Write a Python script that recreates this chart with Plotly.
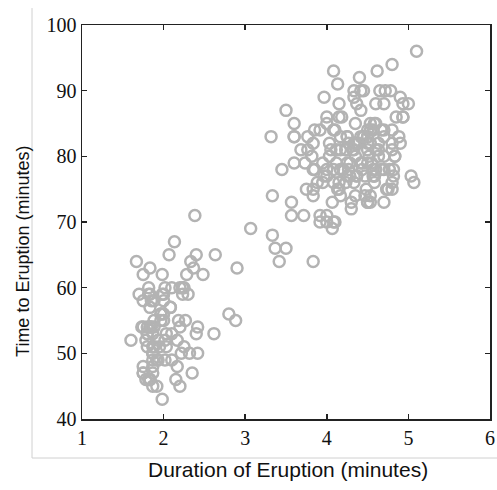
import plotly.graph_objects as go

eruptions = [3.600,1.800,3.333,2.283,4.533,2.883,4.700,3.600,1.950,4.350,1.833,3.917,4.200,1.750,4.700,2.167,1.750,4.800,1.600,4.250,
1.800,1.750,3.450,3.067,4.533,3.600,1.967,4.083,3.850,4.433,4.300,4.467,3.367,4.033,3.833,2.017,1.867,4.833,1.833,4.783,
4.350,1.883,4.567,1.750,4.533,3.317,3.833,2.100,4.633,2.000,4.800,4.716,1.833,4.833,1.733,4.883,3.717,1.667,4.567,4.317,
2.233,4.500,1.750,4.800,1.817,4.400,4.167,4.700,2.067,4.700,4.033,1.967,4.500,4.000,1.983,5.067,2.017,4.567,3.883,3.600,
4.133,4.333,4.100,2.633,4.067,4.933,3.950,4.517,2.167,4.000,2.200,4.333,1.867,4.817,1.833,4.300,4.667,3.750,1.867,4.900,
2.483,4.367,2.100,4.500,4.050,1.867,4.700,1.783,4.850,3.683,4.733,2.300,4.900,4.417,1.700,4.633,2.317,4.600,1.817,4.417,
2.617,4.067,4.250,1.967,4.600,3.767,1.917,4.500,2.267,4.650,1.867,4.167,2.800,4.333,1.833,4.383,1.883,4.933,2.033,3.733,
4.233,2.233,4.533,4.817,4.333,1.983,4.633,2.017,5.100,1.800,5.033,4.000,2.400,4.600,3.567,4.000,4.500,4.083,1.800,3.967,
2.200,4.150,2.000,3.833,3.500,4.583,2.367,5.000,1.933,4.617,1.917,2.083,4.583,3.333,4.167,4.333,4.500,2.417,4.000,4.167,
1.883,4.583,4.250,3.767,2.033,4.433,4.083,1.833,4.417,2.183,4.800,1.833,4.800,4.100,3.966,4.233,3.500,4.366,2.250,4.667,
2.100,4.350,4.133,1.867,4.600,1.783,4.367,3.850,1.933,4.500,2.383,4.700,1.867,3.833,3.417,4.233,2.400,4.800,2.000,4.150,
1.867,4.267,1.750,4.483,4.000,4.117,4.083,4.267,3.917,4.550,4.083,2.417,4.183,2.217,4.450,1.883,1.850,4.283,3.950,2.333,
4.150,2.350,4.933,2.900,4.583,3.833,2.083,4.367,2.133,4.350,2.200,4.450,3.567,4.500,4.150,3.817,3.917,4.450,2.000,4.283,
4.767,4.533,1.850,4.250,1.983,2.250,4.750,4.117,2.150,4.417,1.817,4.467]

waiting = [79,54,74,62,85,55,88,85,51,85,54,84,78,47,83,52,62,84,52,79,
51,47,78,69,74,83,55,76,78,79,73,77,66,80,74,52,48,80,59,90,
80,58,84,58,73,83,64,53,82,59,75,90,54,80,54,83,71,64,77,81,
59,84,48,82,60,92,78,78,65,73,82,56,79,71,62,76,60,78,76,83,
75,82,70,65,73,88,76,80,48,86,60,90,50,78,63,72,84,75,51,82,
62,88,49,83,81,47,84,52,86,81,75,59,89,79,59,81,50,85,59,87,
53,69,77,56,88,81,45,82,55,90,45,83,56,89,46,82,51,86,53,79,
81,60,82,77,76,59,80,49,96,53,77,77,65,81,71,70,81,93,53,89,
45,86,58,78,66,76,63,88,52,93,49,57,77,68,81,81,73,50,85,74,
55,77,83,83,51,78,84,46,83,55,81,57,76,84,77,81,87,77,51,78,
60,82,91,53,78,46,77,84,49,83,71,80,49,75,64,76,53,94,55,76,
50,82,54,75,78,79,78,78,70,79,70,54,86,50,90,54,54,77,79,64,
75,47,86,63,85,82,57,82,67,74,54,83,73,73,88,80,71,83,56,79,
78,84,58,83,43,60,75,81,46,90,46,74]

x_ticks = [1, 2, 3, 4, 5, 6]
y_ticks = [40, 50, 60, 70, 80, 90, 100]
x_title = "Duration of Eruption (minutes)"
y_title = "Time to Eruption (minutes)"

fig = go.Figure()
fig.add_trace(go.Scatter(
    x=eruptions, y=waiting, mode="markers",
    marker=dict(symbol="circle-open", size=11, color="#b3b3b3",
                line=dict(width=2.5, color="#b3b3b3")),
    showlegend=False, cliponaxis=False))

axis_common = dict(showgrid=False, zeroline=False, showline=True, linecolor="#222222",
                   linewidth=1.5, mirror="ticks", ticks="inside", ticklen=5,
                   tickcolor="#222222", tickwidth=1.5, automargin=False,
                   ticklabeloverflow="allow",
                   tickfont=dict(family="Liberation Serif", size=20, color="#111111"))

fig.update_xaxes(range=[1, 6], tickvals=x_ticks, ticktext=[str(v) for v in x_ticks], **axis_common)
fig.update_yaxes(range=[40, 100], tickvals=y_ticks, ticktext=[str(v) for v in y_ticks], **axis_common)

fig.add_annotation(text=x_title, xref="paper", yref="paper", x=0.504, y=-0.129,
                   xanchor="center", yanchor="middle", showarrow=False,
                   font=dict(family="Liberation Sans", size=21, color="#111111"))
fig.add_annotation(text=y_title, xref="paper", yref="paper", x=-0.1446, y=0.424,
                   xanchor="center", yanchor="middle", showarrow=False, textangle=-90,
                   font=dict(family="Liberation Sans", size=18, color="#111111"))

# light gray outer frame (left and bottom edges)
fig.add_shape(type="line", xref="paper", yref="paper", x0=-0.1225, x1=-0.1225, y0=1.043, y1=-0.099,
              line=dict(color="#d0d0d0", width=1))
fig.add_shape(type="line", xref="paper", yref="paper", x0=-0.1225, x1=1.03, y0=-0.099, y1=-0.099,
              line=dict(color="#d0d0d0", width=1))

fig.update_layout(width=497, height=490, margin=dict(l=82, r=7, t=25, b=71),
                  plot_bgcolor="white", paper_bgcolor="white", hovermode=False)

fig.write_html("out.html", config={"displayModeBar": False, "staticPlot": True},
               post_script="document.body.style.margin='0';document.body.style.overflow='hidden';")
